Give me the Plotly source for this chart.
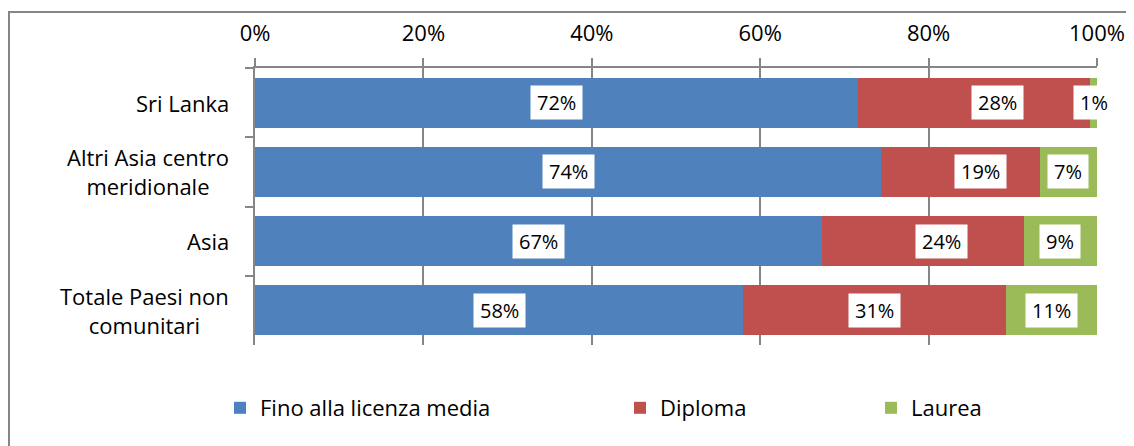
import plotly.graph_objects as go

# categories top to bottom
categories = ["Sri Lanka", "Altri Asia centro meridionale", "Asia", "Totale Paesi non comunitari"]
category_labels = ["Sri Lanka", "Altri Asia centro<br>meridionale", "Asia", "Totale Paesi non<br>comunitari"]

# percent shares
fino_media = [71.6, 74.4, 67.3, 58.0]
diploma = [27.6, 18.8, 24.0, 31.2]
laurea = [0.8, 6.8, 8.7, 10.8]

series_names = ["Fino alla licenza media", "Diploma", "Laurea"]
x_ticks = [0, 20, 40, 60, 80, 100]

colors = ["#4F81BD", "#C0504D", "#9BBB59"]
grid_color = "#868686"
font_name = "Open Sans"

# the page body adds an 8px margin, so the figure is 8px smaller than the window
W, H = 1126, 438
M = dict(l=247, r=37, t=60, b=101, autoexpand=False)

fig = go.Figure()

series = [fino_media, diploma, laurea]
legend_ids = ["legend", "legend2", "legend3"]
for name, vals, col, lg in zip(series_names, series, colors, legend_ids):
    fig.add_trace(go.Bar(
        y=categories, x=vals, name=name, orientation="h",
        marker=dict(color=col, line=dict(width=0)),
        legend=lg, showlegend=True, hoverinfo="x+name",
    ))

# white boxed data labels centred in each segment
# (Diploma labels on the first three rows sit a bit to the right in the original)
label_shift = [[0, 0, 0, 0], [23, 20, 19, 0], [0, 0, 0, 0]]
for s_idx, vals in enumerate(series):
    for c_idx, cat in enumerate(categories):
        start = sum(series[k][c_idx] for k in range(s_idx))
        v = vals[c_idx]
        fig.add_annotation(
            x=start + v / 2, y=cat, xref="x", yref="y",
            text=f"{round(v)}%", showarrow=False,
            bgcolor="white", borderpad=6, height=21,
            xshift=label_shift[s_idx][c_idx],
            font=dict(family=font_name, size=20, color="#000000"),
        )

# category labels, centred lines like the original
for cat, lab in zip(categories, category_labels):
    fig.add_annotation(
        x=0, y=cat, xref="paper", yref="y", text=lab, showarrow=False,
        xanchor="right", align="center", xshift=-24,
        font=dict(family=font_name, size=22, color="#000000"),
    )

# outer chart border (cut off on right and bottom in the original)
pw = W - M["l"] - M["r"]
ph = H - M["t"] - M["b"]
fig.add_shape(
    type="rect", xref="paper", yref="paper",
    x0=(1 - M["l"]) / pw, x1=1.3, y0=-0.6, y1=1 + (M["t"] - 4) / ph,
    line=dict(color=grid_color, width=2), fillcolor="rgba(0,0,0,0)",
)

legend_common = dict(
    orientation="h", xref="container", yref="container",
    yanchor="middle", y=1 - 400 / H, xanchor="left",
    font=dict(family=font_name, size=22, color="#000000"),
    itemwidth=30, bgcolor="rgba(0,0,0,0)",
)

fig.update_layout(
    width=W, height=H, margin=M,
    barmode="stack", bargap=0.275, showlegend=True,
    plot_bgcolor="white", paper_bgcolor="white",
    font=dict(family=font_name, size=22, color="#000000"),
    legend=dict(x=212 / W, **legend_common),
    legend2=dict(x=612 / W, **legend_common),
    legend3=dict(x=863 / W, **legend_common),
    xaxis=dict(
        side="top", range=[0, 100], tickvals=x_ticks,
        ticktext=[f"{t}%" for t in x_ticks],
        showgrid=True, gridcolor=grid_color, gridwidth=1.5,
        showline=True, linecolor=grid_color, linewidth=1.5,
        ticks="outside", ticklen=8, tickcolor=grid_color, tickwidth=1.5,
        zeroline=False, ticklabelstandoff=8,
        tickfont=dict(family=font_name, size=22, color="#000000"),
    ),
    yaxis=dict(
        type="category", autorange="reversed",
        showline=True, linecolor=grid_color, linewidth=1.5,
        ticks="outside", ticklen=8, tickcolor=grid_color, tickwidth=1.5,
        tickson="boundaries", showticklabels=False, showgrid=False,
        zeroline=False,
    ),
)

fig.write_html("out.html")
